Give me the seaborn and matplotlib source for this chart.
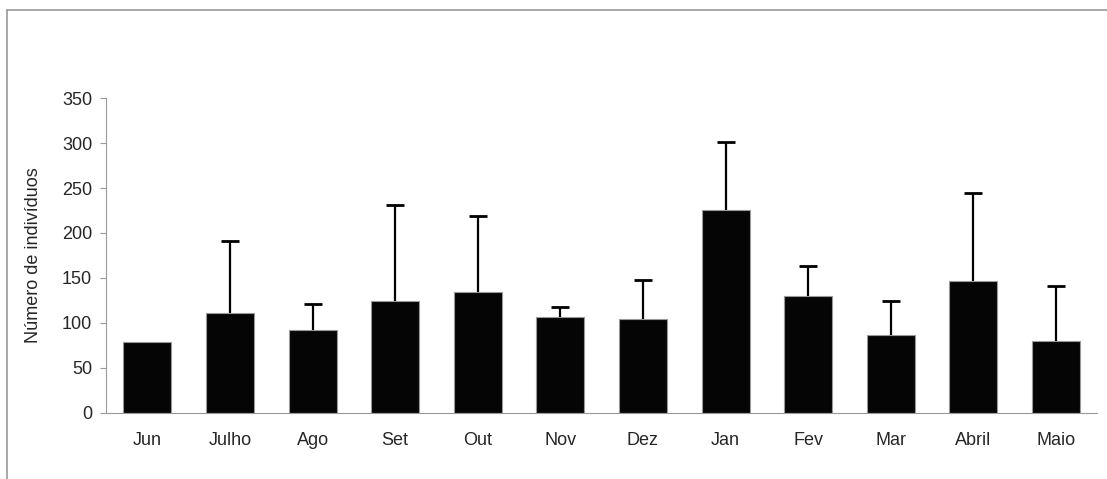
import pandas as pd
import matplotlib.pyplot as plt
import seaborn as sns
from matplotlib.lines import Line2D

# Data
months = ["Jun", "Julho", "Ago", "Set", "Out", "Nov", "Dez", "Jan", "Fev", "Mar", "Abril", "Maio"]
means = [79, 111, 92, 124, 134, 107, 104, 225, 130, 87, 147, 80]
errors = [0, 80, 29, 107, 85, 11, 44, 76, 33, 37, 97, 61]

df = pd.DataFrame({"Mes": months, "Individuos": means})

sns.set_style("white")
plt.rcParams["font.family"] = ["Liberation Sans", "DejaVu Sans"]

fig = plt.figure(figsize=(11.07, 4.79), dpi=100)
ax = fig.add_axes([0.0958, 0.1378, 0.8954, 0.6576])

sns.barplot(data=df, x="Mes", y="Individuos", color="#050505", width=0.58,
            edgecolor="#999999", linewidth=0.8, errorbar=None, ax=ax)

# one-sided (upper) error bars
eb = ax.errorbar(range(len(months)), means, yerr=[[0] * len(errors), errors],
                 fmt="none", ecolor="black", elinewidth=1.6, capsize=6.5, capthick=2)
# hide the lower caps (they sit on top of the bars)
eb[1][0].set_visible(False)
# Jun has no error, hide its cap too
eb[1][1].set_markevery([i for i, e in enumerate(errors) if e > 0])

ax.set_ylim(0, 350)
ax.set_xlim(-0.5, len(months) - 0.5)
ax.set_yticks(range(0, 351, 50))
ax.set_xlabel("")
ax.set_ylabel("Número de indivíduos", fontsize=13, labelpad=14)

# ticks between the categories
ax.set_xticks([i - 0.5 for i in range(len(months) + 1)], minor=True)
ax.tick_params(axis="x", which="major", length=0, pad=14, labelsize=13)
ax.tick_params(axis="x", which="minor", length=4, color="#999999", width=0.8, direction="out")
ax.tick_params(axis="y", length=4, color="#999999", width=0.8, pad=6, labelsize=13, left=True)

for side in ["top", "right"]:
    ax.spines[side].set_visible(False)
for side in ["left", "bottom"]:
    ax.spines[side].set_color("#999999")
    ax.spines[side].set_linewidth(0.8)

# thin border of the chart area
fig.add_artist(Line2D([0.0065, 0.0065], [0, 0.979], color="#999999", lw=1.2, transform=fig.transFigure))
fig.add_artist(Line2D([0.0065, 1], [0.979, 0.979], color="#999999", lw=1.2, transform=fig.transFigure))

fig.savefig("out.png", dpi=100)
